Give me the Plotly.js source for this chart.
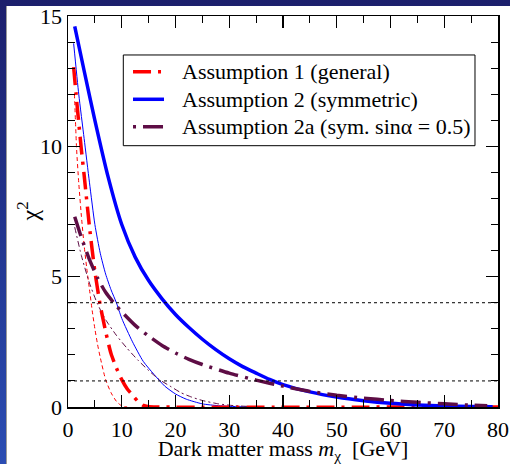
<!DOCTYPE html>
<html>
<head>
<meta charset="utf-8">
<script src="https://cdn.plot.ly/plotly-3.0.1.min.js"></script>
<style>
  html, body { margin: 0; padding: 0; }
  body { width: 510px; height: 464px; overflow: hidden; position: relative;
         background: linear-gradient(to bottom, #1c1f6c 0%, #22358f 50%, #2b4db3 100%); }
  #panel { position: absolute; left: 6px; top: 6px; width: 504px; height: 458px; background: #fff;
           border-left: 1px solid #9a9a9a; box-sizing: border-box; }
  #plot { position: absolute; left: 0; top: 0; width: 510px; height: 464px; }
</style>
</head>
<body>
<div id="panel"></div>
<div id="plot"></div>
<script>
// ---- data ----
const seriesNames = ["Assumption 1 (general)", "Assumption 2 (symmetric)", "Assumption 2a (sym. sinα = 0.5)"];

// Assumption 1 (general) — thick
const a1Mass = [1.05, 1.5, 2, 2.5, 3, 4, 5, 6, 7, 8, 9, 10, 11, 12, 13, 14, 15, 16, 80];
const a1Chi2 = [13.04, 12.0, 10.9, 9.85, 8.9, 6.9, 5.2, 3.9, 2.9, 2.05, 1.5, 1.05, 0.7, 0.45, 0.22, 0.06, 0.01, 0.0, 0.0];
// Assumption 1 — thin
const a1tMass = [1.2, 1.6, 2, 2.5, 3, 3.5, 4, 4.5, 5, 5.5, 6, 7, 8, 9, 10, 11];
const a1tChi2 = [12.0, 9.9, 8.6, 7.3, 6.2, 5.3, 4.5, 3.7, 3.0, 2.4, 1.9, 1.05, 0.55, 0.22, 0.04, 0.0];

// Assumption 2 (symmetric) — thick
const a2Mass = [1.25, 3, 5, 7.5, 10, 12.5, 15, 17.5, 20, 22.5, 25, 27.5, 30, 32.5, 35, 37.5, 40, 45, 50, 55, 60, 65, 70, 75, 79];
const a2Chi2 = [14.6, 12.9, 11.0, 8.8, 7.0, 5.75, 4.85, 4.15, 3.55, 3.05, 2.6, 2.2, 1.85, 1.55, 1.3, 1.06, 0.86, 0.58, 0.38, 0.24, 0.14, 0.08, 0.04, 0.02, 0.01];
// Assumption 2 — thin
const a2tMass = [1.05, 2, 3, 4, 5, 6, 7, 8, 9, 10, 12, 14, 16, 18, 20, 22, 25, 28, 32, 36];
const a2tChi2 = [13.95, 12.0, 10.3, 8.6, 7.0, 5.9, 5.1, 4.5, 4.0, 3.4, 2.5, 1.75, 1.25, 0.8, 0.5, 0.3, 0.12, 0.05, 0.01, 0.0];

// Assumption 2a (sym. sinα = 0.5) — thick
const a2aMass = [1.25, 2.5, 4, 5.5, 7, 8.5, 10, 12.5, 15, 17.5, 20, 22.5, 25, 30, 35, 40, 45, 50, 55, 60, 65, 70, 75, 78];
const a2aChi2 = [7.3, 6.5, 5.65, 4.95, 4.4, 4.0, 3.65, 3.13, 2.72, 2.36, 2.07, 1.83, 1.63, 1.3, 1.03, 0.8, 0.6, 0.45, 0.34, 0.25, 0.18, 0.12, 0.07, 0.05];
// Assumption 2a — thin
const a2atMass = [1.25, 2.5, 4, 5.5, 7, 9, 11, 13, 15, 17, 19, 21, 23, 25, 28, 31, 35];
const a2atChi2 = [6.9, 5.8, 4.75, 3.95, 3.35, 2.75, 2.25, 1.8, 1.4, 1.05, 0.8, 0.55, 0.38, 0.25, 0.12, 0.05, 0.01];

// reference levels (dotted)
const chi2Levels = [1, 4];
const massRange = [0, 80];
const chi2Range = [0, 15];

const xTicks = [0, 10, 20, 30, 40, 50, 60, 70, 80];
const yTicks = [0, 5, 10, 15];

// ---- styles ----
const RED = "#ff0000", BLUE = "#0000ff", PURPLE = "#5e0d45";
const serif = "Liberation Serif";
const thickStyles = [
  { color: RED, dash: "18px,7px,3px,7px", sampleDash: "18px,7px,3px,7px" },
  { color: BLUE, dash: "solid", sampleDash: "solid" },
  { color: PURPLE, dash: "20px,7px,3px,7px", sampleDash: "3px,7px,20px,7px" },
];

function tr(x, y, color, width, dash) {
  return { x: x, y: y, type: "scatter", mode: "lines", showlegend: false, hoverinfo: "skip",
    line: { color: color, width: width, dash: dash, shape: "spline", smoothing: 0.6 } };
}

// dotted reference levels, drawn on the overlay axes
const lvlX = [], lvlY = [];
chi2Levels.forEach(v => { lvlX.push(massRange[0], massRange[1], null); lvlY.push(v, v, null); });

const traces = [
  { x: lvlX, y: lvlY, xaxis: "x2", yaxis: "y2", type: "scatter", mode: "lines", showlegend: false,
    hoverinfo: "skip", line: { color: "#000", width: 1, dash: "dot" } },
  tr(a1tMass, a1tChi2, RED, 1, "4px,3px"),
  tr(a2tMass, a2tChi2, BLUE, 1, "solid"),
  tr(a2atMass, a2atChi2, PURPLE, 1, "6px,3px,2px,3px"),
  tr(a1Mass, a1Chi2, thickStyles[0].color, 3.5, thickStyles[0].dash),
  tr(a2Mass, a2Chi2, thickStyles[1].color, 3.5, thickStyles[1].dash),
  tr(a2aMass, a2aChi2, thickStyles[2].color, 3.5, thickStyles[2].dash),
];

// ---- legend (frame, samples, labels) built in paper coordinates ----
const legendRows = [0.8576, 0.7870, 0.7169];
const shapes = [{ type: "rect", xref: "paper", yref: "paper", x0: 0.1286, x1: 0.9465, y0: 0.6683, y1: 0.9003,
  line: { color: "#000", width: 1 }, fillcolor: "#fff", layer: "below" }];
const annotations = [];
seriesNames.forEach((name, i) => {
  shapes.push({ type: "line", xref: "paper", yref: "paper", x0: 0.1512, x1: 0.2233, y0: legendRows[i], y1: legendRows[i],
    line: { color: thickStyles[i].color, width: 3.5, dash: thickStyles[i].sampleDash } });
  annotations.push({ xref: "paper", yref: "paper", x: 0.2605, y: legendRows[i], xanchor: "left", yanchor: "middle",
    text: name, showarrow: false, font: { family: serif, size: 22, color: "#000" } });
});
// y-axis title
annotations.push({ xref: "paper", yref: "paper", x: -0.0953, y: 0.5, xanchor: "center", yanchor: "middle",
  text: "χ<sup>2</sup>", textangle: -90, showarrow: false, font: { family: serif, size: 24, color: "#000" } });

const tickCommon = {
  ticks: "inside", ticklen: 12, tickwidth: 1.2, tickcolor: "#000",
  showgrid: false, zeroline: false,
  tickfont: { family: serif, size: 22, color: "#000" },
};
const minorCommon = { ticks: "inside", ticklen: 7, tickwidth: 1, tickcolor: "#000", showgrid: false };

const layout = {
  width: 510, height: 464,
  margin: { l: 68, r: 12, t: 16, b: 57 },
  paper_bgcolor: "rgba(0,0,0,0)", plot_bgcolor: "#fff",
  font: { family: serif, size: 22, color: "#000" },
  showlegend: false,
  xaxis: Object.assign({}, tickCommon, {
    range: massRange, tickvals: xTicks, ticktext: xTicks.map(String), ticklabelstandoff: 2,
    showline: true, linecolor: "#000", linewidth: 1.5, mirror: true,
    minor: Object.assign({}, minorCommon, { dtick: 5, tick0: 0 }),
    title: { text: "Dark matter mass <i>m</i><sub>χ</sub>  [GeV]", font: { family: serif, size: 22, color: "#000" }, standoff: 2 },
  }),
  yaxis: Object.assign({}, tickCommon, {
    range: chi2Range, tickvals: yTicks, ticktext: yTicks.map(String), ticklabelstandoff: 0,
    showline: true, linecolor: "#000", linewidth: 1.5, mirror: true,
    minor: Object.assign({}, minorCommon, { dtick: 1, tick0: 0 }),
  }),
  xaxis2: Object.assign({}, tickCommon, {
    overlaying: "x", side: "top", range: massRange, tickvals: xTicks, showticklabels: false, showline: false,
    minor: Object.assign({}, minorCommon, { dtick: 5, tick0: 0 }),
  }),
  yaxis2: Object.assign({}, tickCommon, {
    overlaying: "y", side: "right", range: chi2Range, tickvals: yTicks, showticklabels: false, showline: false,
    minor: Object.assign({}, minorCommon, { dtick: 1, tick0: 0 }),
  }),
  shapes: shapes,
  annotations: annotations,
};

Plotly.newPlot("plot", traces, layout, { staticPlot: true, displayModeBar: false });
</script>
</body>
</html>
